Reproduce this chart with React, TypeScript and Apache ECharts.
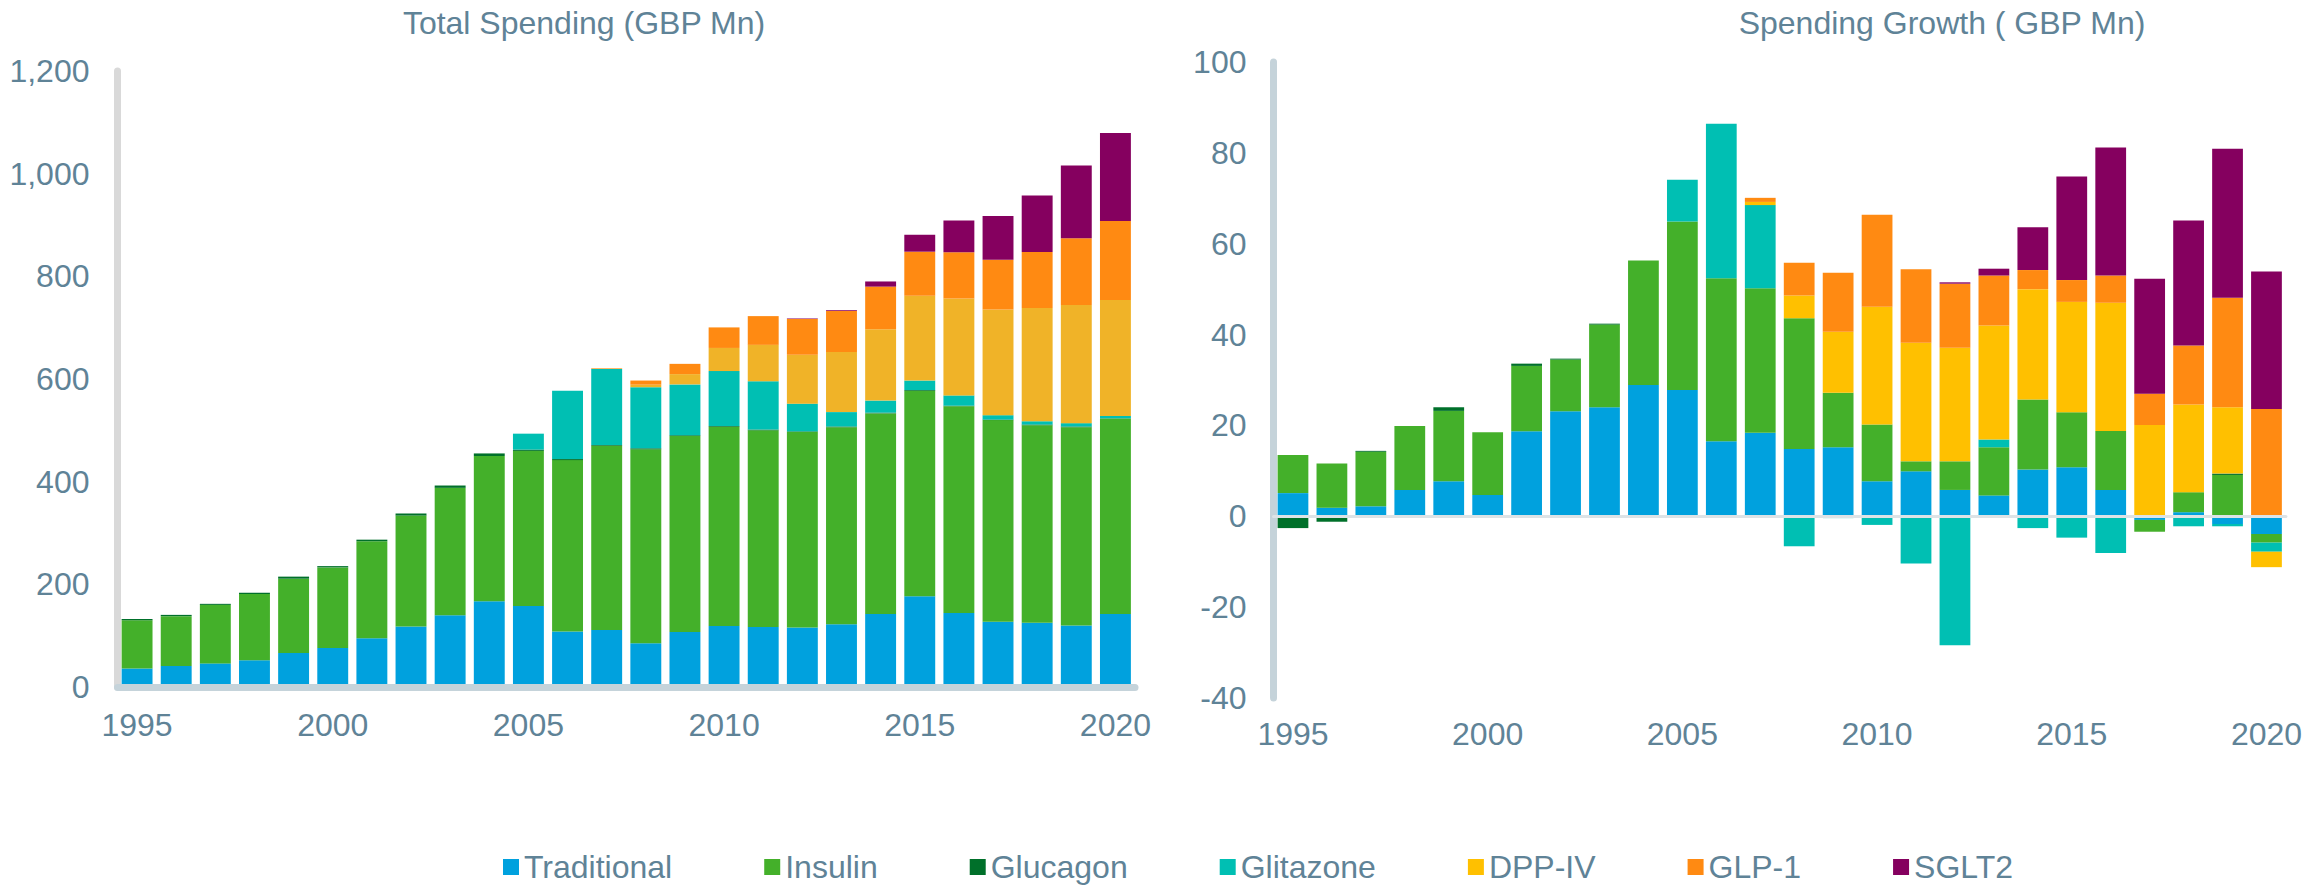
import React, { useEffect, useRef } from "react";
import * as echarts from "echarts";

// ---------- categories ----------
const years = [
  "1995", "1996", "1997", "1998", "1999", "2000", "2001", "2002", "2003", "2004",
  "2005", "2006", "2007", "2008", "2009", "2010", "2011", "2012", "2013", "2014",
  "2015", "2016", "2017", "2018", "2019", "2020",
];
const seriesNames = ["Traditional", "Insulin", "Glucagon", "Glitazone", "DPP-IV", "GLP-1", "SGLT2"];

// ---------- Total Spending (GBP Mn) ----------
const totalTraditional = [36, 41, 46, 52, 66, 76, 95, 118, 140, 167, 158, 108, 111, 85, 107, 119, 117, 116, 122, 142, 177, 144, 127, 125, 120, 142];
const totalInsulin = [94, 97, 114, 129, 145, 157, 189, 216, 248, 283, 302, 334, 359, 378, 382, 388, 383, 381, 384, 391, 400, 403, 393, 385, 386, 381];
const totalGlucagon = [2.5, 2.5, 2, 2.5, 4, 2.5, 3, 4, 4.5, 5, 2.5, 2, 1.5, 2, 1.5, 1.5, 1.5, 1, 1.5, 1.5, 1.5, 1, 1, 1.5, 1.5, 0.5];
const totalGlitazone = [0, 0, 0, 0, 0, 0, 0, 0, 0, 0, 31, 133, 148, 119, 99, 107, 94, 54, 28, 23.5, 18.5, 20, 8.5, 6, 6.5, 4.5];
const totalDPP4 = [0, 0, 0, 0, 0, 0, 0, 0, 0, 0, 0, 0, 0.7, 5, 20, 45, 71, 95, 117, 139, 165, 189, 206, 221, 230, 226];
const totalGLP1 = [0, 0, 0, 0, 0, 0, 0, 0, 0, 0, 0, 0, 0.9, 8, 20, 40, 56, 70, 80, 83, 86, 90, 97, 109, 130, 154];
const totalSGLT2 = [0, 0, 0, 0, 0, 0, 0, 0, 0, 0, 0, 0, 0, 0, 0, 0, 0, 1, 1.5, 10, 33, 62, 85, 110, 142, 171];

// ---------- Spending Growth (GBP Mn) ----------
const growthTraditional = [5.1, 1.9, 2.2, 5.8, 7.7, 4.7, 18.7, 23.1, 24.0, 28.9, 27.8, 16.5, 18.4, 14.8, 15.2, 7.7, 9.9, 5.8, 4.6, 10.3, 10.8, 5.8, -0.8, 0.9, -1.7, -3.9];
const growthInsulin = [8.4, 9.7, 12.0, 14.1, 15.5, 13.8, 14.4, 11.4, 18.2, 27.4, 37.1, 35.9, 31.8, 28.8, 12.0, 12.5, 2.2, 6.3, 10.6, 15.4, 12.1, 13.0, -2.6, 4.4, 9.1, -1.9];
const growthGlucagon = [-2.6, -1.2, 0.2, -0.3, 0.8, 0, 0.5, 0.2, 0.2, 0, 0, 0, 0, 0, 0, 0, 0, 0, 0, 0, 0, 0, 0, 0, 0.3, 0];
const growthGlitazone = [0, 0, 0, 0, 0, 0, 0, 0, 0, 0, 9.2, 34.0, 18.3, -6.6, -0.4, -1.9, -10.4, -28.4, 1.7, -2.6, -4.7, -8.1, 0, -2.2, -0.5, -2.0];
const growthDPP4 = [0, 0, 0, 0, 0, 0, 0, 0, 0, 0, 0, 0, 0.7, 5.0, 13.4, 25.9, 26.1, 25.0, 25.1, 24.3, 24.3, 28.2, 20.1, 19.3, 14.6, -3.4];
const growthGLP1 = [0, 0, 0, 0, 0, 0, 0, 0, 0, 0, 0, 0, 0.9, 7.2, 13.0, 20.3, 16.2, 14.1, 11.0, 4.2, 4.8, 6.0, 6.9, 13.0, 24.1, 23.6];
const growthSGLT2 = [0, 0, 0, 0, 0, 0, 0, 0, 0, 0, 0, 0, 0, 0, 0, 0, 0, 0.3, 1.5, 9.4, 22.8, 28.2, 25.3, 27.5, 32.8, 30.3];

const leftTitle = "Total Spending (GBP Mn)";
const rightTitle = "Spending Growth ( GBP Mn)";

// ---------- styles ----------
const FONT = "'Liberation Sans', Arial, Helvetica, sans-serif";
const TEXT = "#5f8397";
const leftColors = ["#00a1de", "#44b02a", "#00702a", "#00bfb3", "#f0b328", "#ff8a12", "#85005f"];
const rightColors = ["#00a1de", "#44b02a", "#00702a", "#00bfb3", "#ffc000", "#ff8a12", "#85005f"];

export default function App() {
  const ref = useRef<HTMLDivElement>(null);

  useEffect(() => {
    document.body.style.margin = "0";
    document.body.style.overflow = "hidden";
    const chart = echarts.init(ref.current as HTMLDivElement, null, { renderer: "svg" });

    const leftData = [totalTraditional, totalInsulin, totalGlucagon, totalGlitazone, totalDPP4, totalGLP1, totalSGLT2];
    const rightData = [growthTraditional, growthInsulin, growthGlucagon, growthGlitazone, growthDPP4, growthGLP1, growthSGLT2];

    const labelStyle = { color: TEXT, fontSize: 32, fontFamily: FONT };

    const series: any[] = [];
    seriesNames.forEach((n, i) => {
      series.push({
        name: n,
        type: "bar",
        stack: "total",
        xAxisIndex: 0,
        yAxisIndex: 0,
        barCategoryGap: "21%",
        data: leftData[i],
        itemStyle: { color: leftColors[i] },
      });
    });
    seriesNames.forEach((n, i) => {
      series.push({
        name: n,
        type: "bar",
        stack: "growth",
        xAxisIndex: 1,
        yAxisIndex: 1,
        barCategoryGap: "21%",
        data: rightData[i],
        itemStyle: { color: rightColors[i] },
      });
    });

    const option: any = {
      animation: false,
      textStyle: { fontFamily: FONT },
      graphic: [
        {
          type: "text",
          x: 584,
          y: 23,
          style: { text: leftTitle, fill: TEXT, fontSize: 32, fontFamily: FONT, align: "center", verticalAlign: "middle" },
        },
        {
          type: "text",
          x: 1942,
          y: 23,
          style: { text: rightTitle, fill: TEXT, fontSize: 32, fontFamily: FONT, align: "center", verticalAlign: "middle" },
        },
      ],
      legend: {
        data: seriesNames.map((n, i) => ({ name: n, itemStyle: { color: rightColors[i] } })),
        icon: "rect",
        itemWidth: 16,
        itemHeight: 16,
        itemGap: 92,
        left: 503,
        top: 851,
        padding: 0,
        textStyle: labelStyle,
        selectedMode: false,
      },
      grid: [
        { left: 117.5, top: 71, width: 1017.5, height: 616, containLabel: false },
        { left: 1273.5, top: 62, width: 1016, height: 636, containLabel: false },
      ],
      xAxis: [
        {
          type: "category",
          gridIndex: 0,
          data: years,
          z: 5,
          axisLine: { show: true, lineStyle: { color: "#c5d3da", width: 7 } },
          axisTick: { show: false },
          axisLabel: { ...labelStyle, interval: 4, margin: 22 },
        },
        {
          type: "category",
          gridIndex: 1,
          data: years,
          axisLine: { show: false, onZero: false },
          axisTick: { show: false },
          axisLabel: { ...labelStyle, interval: 4, margin: 20 },
        },
        {
          type: "category",
          gridIndex: 1,
          data: years,
          z: 5,
          axisLine: { show: true, onZero: true, lineStyle: { color: "#dde3e6", width: 3 } },
          axisTick: { show: false },
          axisLabel: { show: false },
        },
      ],
      yAxis: [
        {
          type: "value",
          gridIndex: 0,
          min: 0,
          max: 1200,
          interval: 200,
          axisLine: { show: true, lineStyle: { color: "#d9d9d9", width: 7 } },
          axisTick: { show: false },
          splitLine: { show: false },
          axisLabel: {
            ...labelStyle,
            margin: 28,
            formatter: (v: number) => v.toLocaleString("en-US"),
          },
        },
        {
          type: "value",
          gridIndex: 1,
          min: -40,
          max: 100,
          interval: 20,
          axisLine: { show: true, lineStyle: { color: "#c5d3da", width: 7 } },
          axisTick: { show: false },
          splitLine: { show: false },
          axisLabel: { ...labelStyle, margin: 27 },
        },
      ],
      series,
    };

    chart.setOption(option);
    return () => chart.dispose();
  }, []);

  return <div ref={ref} style={{ width: 2305, height: 886 }} />;
}
